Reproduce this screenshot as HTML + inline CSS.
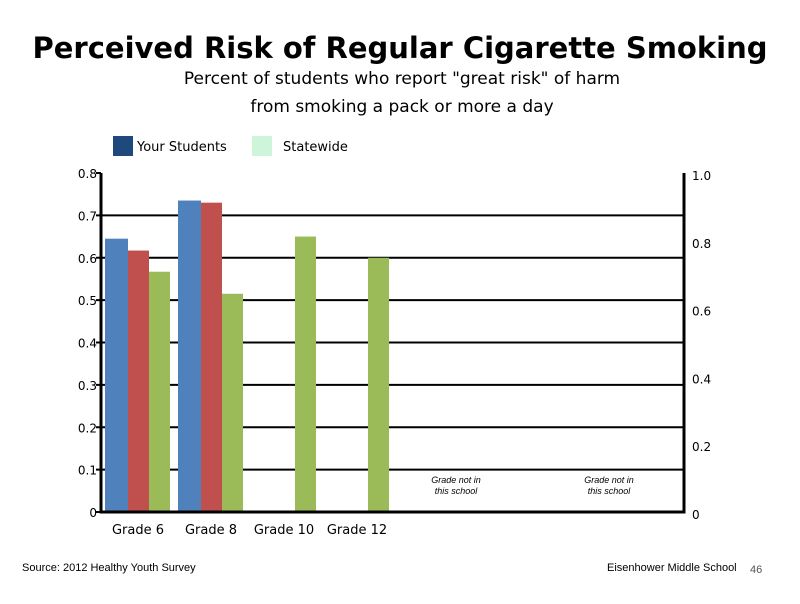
<!DOCTYPE html>
<html><head><meta charset="utf-8"><style>
body{margin:0;background:#fff;width:800px;height:600px;overflow:hidden;font-family:"DejaVu Sans","Liberation Sans",sans-serif}
</style></head><body>
<svg width="800" height="600" xmlns="http://www.w3.org/2000/svg">
<text x="400" y="58" text-anchor="middle" font-size="29" font-weight="bold">Perceived Risk of Regular Cigarette Smoking</text>
<text x="402" y="84" text-anchor="middle" font-size="17">Percent of students who report "great risk" of harm</text>
<text x="402" y="112" text-anchor="middle" font-size="17">from smoking a pack or more a day</text>
<g>
<rect x="113" y="136" width="20" height="20" fill="#1f497d"/>
<text x="137" y="151" font-size="13">Your Students</text>
<rect x="252" y="136" width="20" height="20" fill="#ccf5d9"/>
<text x="283" y="151" font-size="13">Statewide</text>
</g>
<g id="plot"></g>
<text x="456" y="483" text-anchor="middle" font-size="9" font-style="italic" font-family="Liberation Sans">Grade not in</text>
<text x="456" y="494" text-anchor="middle" font-size="9" font-style="italic" font-family="Liberation Sans">this school</text>
<text x="609" y="483" text-anchor="middle" font-size="9" font-style="italic" font-family="Liberation Sans">Grade not in</text>
<text x="609" y="494" text-anchor="middle" font-size="9" font-style="italic" font-family="Liberation Sans">this school</text>
<text x="22" y="571" font-size="11" font-family="Liberation Sans">Source: 2012 Healthy Youth Survey</text>
<text x="607" y="571" font-size="11" font-family="Liberation Sans">Eisenhower Middle  School</text>
<text x="750" y="573" font-size="11" fill="#555" font-family="Liberation Sans">46</text>
</svg>
<script>
const categories=["Grade 6","Grade 8","Grade 10","Grade 12"];
const blueVals=[0.645,0.735,null,null];
const redVals=[0.617,0.730,null,null];
const greenVals=[0.567,0.515,0.65,0.60];
const leftTicks=["0","0.1","0.2","0.3","0.4","0.5","0.6","0.7","0.8"];
const rightTicks=["0","0.2","0.4","0.6","0.8","1.0"];
const NS="http://www.w3.org/2000/svg";
const g=document.getElementById('plot');
const X0=101,X1=684,Y0=512,YT=173,band=73;
const y=v=>Y0-(v/0.8)*(Y0-YT);
const yr=v=>Y0-v*(Y0-YT);
function mk(t,a){const e=document.createElementNS(NS,t);for(const k in a)e.setAttribute(k,a[k]);g.appendChild(e);return e;}
leftTicks.forEach((t,i)=>{const v=i*0.1,yy=y(v);
 if(i>0&&i<8){const l=mk('line',{x1:X0,x2:X1,y1:yy,y2:yy,stroke:'#000','stroke-width':2});
 }
 const tk=mk('line',{x1:X0-5,x2:X0,y1:yy,y2:yy,stroke:'#000','stroke-width':2});
 
 const tx=mk('text',{x:X0-4,y:yy+5,'text-anchor':'end','font-size':12});tx.textContent=t;
 });
rightTicks.forEach((t,i)=>{const yy=yr(i*0.2);
 const tx=mk('text',{x:X1+8,y:yy+7,'font-size':12});tx.textContent=t;
 });
const series=[[blueVals,'#4f81bd',4,23],[redVals,'#c0504d',27,21],[greenVals,'#9bbb59',48,21]];
categories.forEach((c,i)=>{
 series.forEach(([vals,col,off,w],s)=>{const v=vals[i];if(v==null)return;
  const r=mk('rect',{x:X0+i*band+off,y:y(v),width:w,height:Y0-y(v),fill:col});
  
  });
 const tx=mk('text',{x:X0+i*band+37,y:534,'text-anchor':'middle','font-size':13});tx.textContent=c;
 
});
const ax=mk('path',{d:`M${X0},${YT} V${Y0} H${X1} V${YT}`,fill:'none',stroke:'#000','stroke-width':3});

</script>
</body></html>
